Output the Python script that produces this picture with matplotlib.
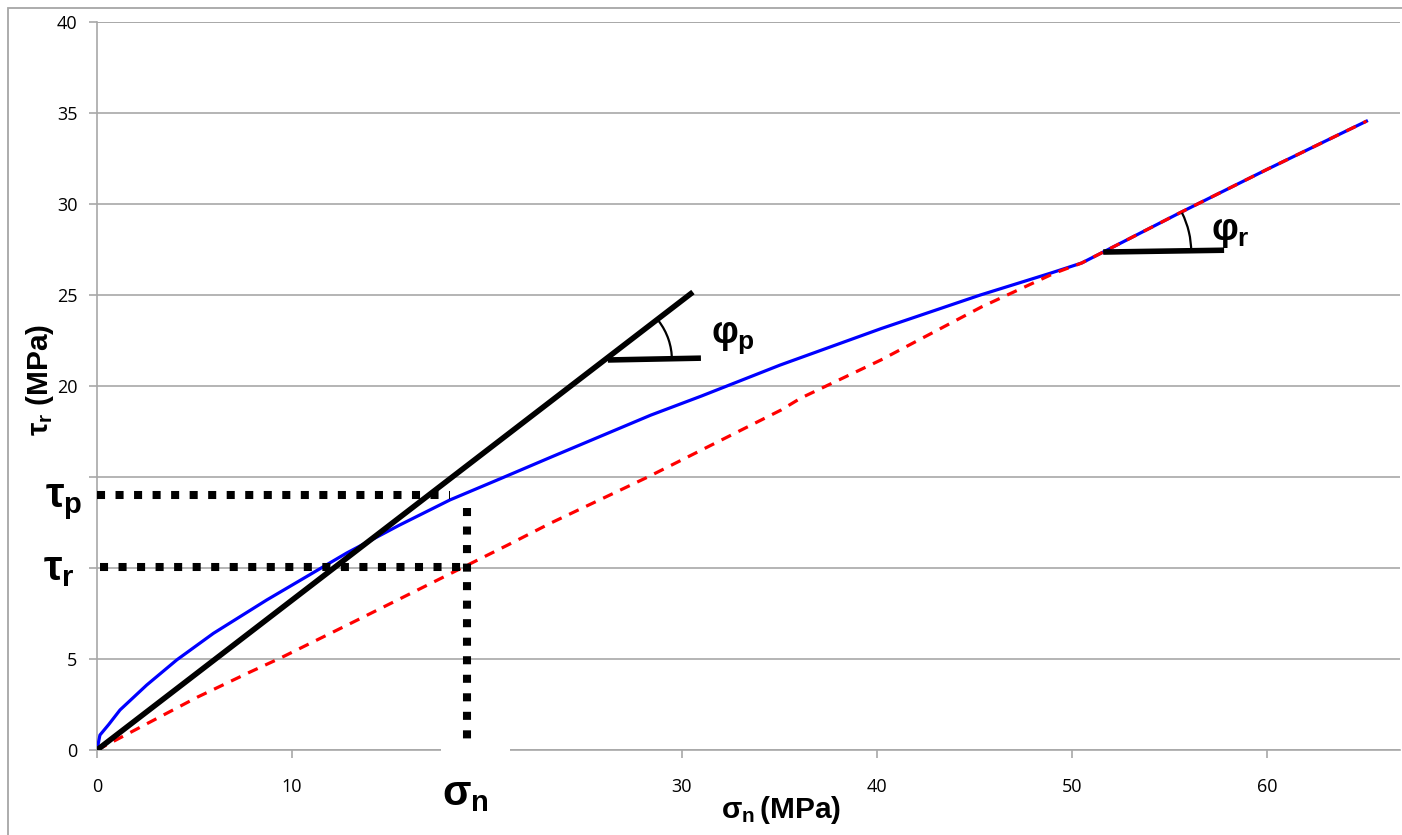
import numpy as np
import matplotlib
matplotlib.use("Agg")
import matplotlib.pyplot as plt
from matplotlib.patches import Arc, Rectangle

plt.rcParams['mathtext.fontset'] = 'custom'
plt.rcParams['mathtext.rm'] = 'Liberation Sans:bold'
plt.rcParams['mathtext.it'] = 'Liberation Sans:bold'
plt.rcParams['mathtext.bf'] = 'Liberation Sans:bold'

# ---- data ----
sigma_peak = [0, 0.15, 0.6, 1.18, 2.55, 4.09, 5.97, 8.7, 12.8, 15.5, 18.1, 20.67, 23.3,
              28.4, 31.0, 35.03, 40.2, 45.3, 48.9, 50.5, 51.6, 55.5, 60.0, 65.1]
tau_peak = [0, 0.82, 1.4, 2.2, 3.57, 4.95, 6.41, 8.24, 10.82, 12.35, 13.74, 14.9, 16.1,
            18.4, 19.45, 21.15, 23.15, 25.0, 26.2, 26.76, 27.36, 29.5, 31.9, 34.55]

sigma_res = [0, 5.14, 7.86, 9.4, 13.35, 19.0, 21.06, 23.27, 28.25, 35.08, 36.1,
             40.2, 45.35, 49.1, 50.5, 51.6, 55.5, 60.0, 65.1]
tau_res = [0, 2.9, 4.29, 5.05, 7.14, 10.16, 11.26, 12.47, 15.0, 18.68, 19.34,
           21.43, 24.34, 26.2, 26.76, 27.36, 29.5, 31.9, 34.55]

sigma_tangent = [0, 30.56]
tau_tangent = [0, 25.16]

tau_p_val = 14.0
tau_r_val = 10.05
sigma_n_val = 18.98
tau_n_top = 13.3

phi_p_origin = (26.2, 21.43)
phi_p_end_x = 30.97
phi_r_origin = (51.6, 27.36)
phi_r_end_x = 57.8

x_ticks = [0, 10, 20, 30, 40, 50, 60]
x_ticklabels = ['0', '10', '', '30', '40', '50', '60']
y_ticks = [0, 5, 10, 15, 20, 25, 30, 35, 40]
y_ticklabels = ['0', '5', '', '', '20', '25', '30', '35', '40']

W, H = 1402, 835
fig = plt.figure(figsize=(W / 100, H / 100), dpi=100)

def fx(px):
    return px / W

def fy(py):
    return 1 - py / H

# outer chart border
fig.patches.append(Rectangle((fx(8), -0.2), 1.5, fy(8) + 0.2, transform=fig.transFigure,
                             fill=False, edgecolor='#a6a6a6', lw=1.3, zorder=0))

ax = fig.add_axes([fx(97), fy(750), (1400 - 97) / W, (750 - 22) / H])
ax.set_xlim(0, 1303 / 19.5)
ax.set_ylim(0, 40)

grid_c = '#a8a8a8'
for s in ['top', 'right']:
    ax.spines[s].set_visible(False)
for s in ['left', 'bottom']:
    ax.spines[s].set_color(grid_c)
    ax.spines[s].set_linewidth(1.2)
ax.set_yticks(y_ticks)
ax.set_yticklabels(y_ticklabels)
ax.set_xticks(x_ticks)
ax.set_xticklabels(x_ticklabels)
ax.tick_params(axis='y', direction='out', length=6, width=1.2, color=grid_c, pad=8,
               labelsize=13)
ax.tick_params(axis='x', direction='out', length=6, width=1.2, color=grid_c, pad=14,
               labelsize=13)
for lab in ax.get_xticklabels() + ax.get_yticklabels():
    lab.set_fontfamily('Open Sans')
ax.yaxis.grid(True, color=grid_c, lw=1.2)
ax.set_axisbelow(True)
ax.axhline(40, color=grid_c, lw=1.2, zorder=1)

# curves
ax.plot(sigma_peak, tau_peak, color='#0000ff', lw=2.3, zorder=3, solid_joinstyle='round')
ax.plot(sigma_res, tau_res, color='#ff0000', lw=2.3, linestyle=(0, (3.3, 2.6)), zorder=4)
ax.plot(sigma_tangent, tau_tangent, color='black', lw=4, zorder=5, solid_capstyle='butt')

# dotted construction lines
dot = dict(color='black', lw=5.8, linestyle=(0, (1, 1.3)), dash_capstyle='butt', zorder=6)
ax.plot([0, 18.1], [tau_p_val, tau_p_val], **dot)
ax.plot([0.15, sigma_n_val], [tau_r_val, tau_r_val], **dot)
ax.plot([sigma_n_val, sigma_n_val], [tau_n_top, 0.15], clip_on=False, **dot)

# angle markers
ax.plot([phi_p_origin[0], phi_p_end_x], [phi_p_origin[1], phi_p_origin[1] + 0.1],
        color='black', lw=4, solid_capstyle='butt', zorder=5)
ax.plot([phi_r_origin[0], phi_r_end_x], [phi_r_origin[1], phi_r_origin[1] + 0.1],
        color='black', lw=4, solid_capstyle='butt', zorder=5)

ang_p = np.degrees(np.arctan(tau_tangent[1] / sigma_tangent[1]))
rp = 64
ax.add_patch(Arc(phi_p_origin, 2 * rp / 19.5, 2 * rp / 18.2, theta1=0, theta2=ang_p,
                 color='black', lw=1.6, zorder=5))
ang_r = np.degrees(np.arctan((tau_peak[-1] - phi_r_origin[1]) / (sigma_peak[-1] - phi_r_origin[0])))
rr = 88
ax.add_patch(Arc(phi_r_origin, 2 * rr / 19.5, 2 * rr / 18.2, theta1=0, theta2=ang_r,
                 color='black', lw=1.6, zorder=5))

# white box hiding part of the x axis under the sigma_n label
fig.patches.append(Rectangle((fx(441), fy(830)), (510 - 441) / W, (830 - 747) / H,
                             transform=fig.transFigure, facecolor='white',
                             edgecolor='none', zorder=10))

# labels
fig.text(fx(45), fy(507), r'$\tau_p$', fontsize=30, ha='left', va='baseline', zorder=11)
fig.text(fx(43), fy(580), r'$\tau_r$', fontsize=30, ha='left', va='baseline', zorder=11)
fig.text(fx(442), fy(805), r'$\sigma_n$', fontsize=30, ha='left', va='baseline', zorder=11)
fig.text(fx(711), fy(343), r'$\varphi_p$', fontsize=27, ha='left', va='baseline', zorder=11)
fig.text(fx(1211), fy(240), r'$\varphi_r$', fontsize=27, ha='left', va='baseline', zorder=11)
fig.text(fx(781), fy(818), r'$\sigma_n\,$(MPa)', fontsize=21.5, ha='center', va='baseline',
         fontfamily='Liberation Sans', fontweight='bold', zorder=11)
fig.text(fx(40), fy(380), r'$\tau_r$ (MPa)', fontsize=21.5, ha='center', va='center',
         rotation=90, fontfamily='Liberation Sans', fontweight='bold', zorder=11)

fig.savefig('out.png', dpi=100)
